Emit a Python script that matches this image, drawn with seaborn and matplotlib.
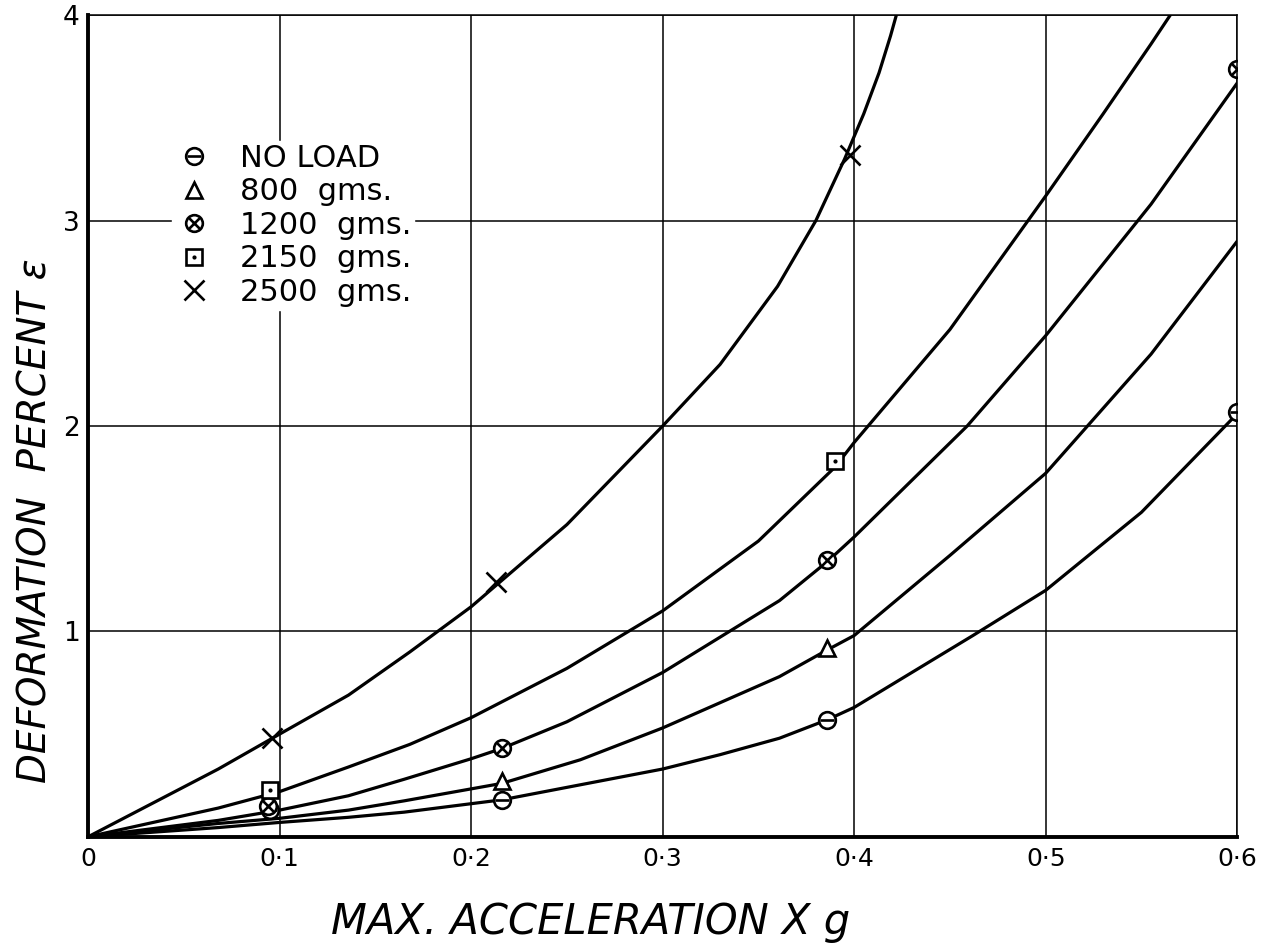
import pandas as pd
import matplotlib
matplotlib.use("Agg")
import matplotlib.pyplot as plt
from matplotlib.lines import Line2D
import seaborn as sns

sns.set_style("white")
plt.rcParams['font.family'] = ['DejaVu Sans']
plt.rcParams['text.color'] = 'black'
plt.rcParams['axes.labelcolor'] = 'black'
plt.rcParams['xtick.color'] = 'black'
plt.rcParams['ytick.color'] = 'black'

# curves (x = max acceleration, y = deformation %)
noload_cx = [0, 0.068, 0.1, 0.136, 0.165, 0.216, 0.3, 0.33, 0.361, 0.386, 0.4, 0.462, 0.5, 0.55, 0.6]
noload_cy = [0, 0.045, 0.07, 0.095, 0.12, 0.18, 0.33, 0.4, 0.48, 0.57, 0.63, 0.98, 1.2, 1.58, 2.06]
g800_cx = [0, 0.068, 0.1, 0.136, 0.165, 0.216, 0.257, 0.3, 0.361, 0.386, 0.4, 0.45, 0.5, 0.555, 0.6]
g800_cy = [0, 0.065, 0.09, 0.13, 0.175, 0.26, 0.375, 0.53, 0.78, 0.91, 0.98, 1.37, 1.77, 2.35, 2.9]
g1200_cx = [0, 0.068, 0.1, 0.136, 0.165, 0.2, 0.216, 0.25, 0.3, 0.361, 0.386, 0.4, 0.459, 0.5, 0.555, 0.6]
g1200_cy = [0, 0.08, 0.13, 0.2, 0.28, 0.38, 0.43, 0.56, 0.8, 1.15, 1.34, 1.46, 2.0, 2.44, 3.08, 3.67]
g2150_cx = [0, 0.068, 0.1, 0.136, 0.168, 0.2, 0.25, 0.3, 0.35, 0.39, 0.4, 0.45, 0.5, 0.53, 0.555, 0.565]
g2150_cy = [0, 0.14, 0.22, 0.34, 0.45, 0.58, 0.82, 1.1, 1.44, 1.8, 1.92, 2.47, 3.12, 3.52, 3.86, 4.0]
g2500_cx = [0, 0.068, 0.1, 0.136, 0.168, 0.2, 0.25, 0.3, 0.33, 0.36, 0.38, 0.395, 0.405, 0.413, 0.419, 0.422]
g2500_cy = [0, 0.33, 0.5, 0.69, 0.9, 1.12, 1.52, 2.0, 2.3, 2.68, 3.0, 3.3, 3.52, 3.72, 3.9, 4.0]

# measured points
noload_px = [0.095, 0.216, 0.386, 0.6]
noload_py = [0.13, 0.18, 0.57, 2.07]
g800_px = [0.216, 0.386]
g800_py = [0.27, 0.92]
g1200_px = [0.094, 0.216, 0.386, 0.6]
g1200_py = [0.15, 0.43, 1.35, 3.74]
g2150_px = [0.095, 0.39]
g2150_py = [0.23, 1.83]
g2500_px = [0.096, 0.213, 0.398]
g2500_py = [0.48, 1.24, 3.32]

load_names = ["NO LOAD", "800  gms.", "1200  gms.", "2150  gms.", "2500  gms."]
x_ticks = [0, 0.1, 0.2, 0.3, 0.4, 0.5, 0.6]
x_ticklabels = ["0", "0·1", "0·2", "0·3", "0·4", "0·5", "0·6"]
y_ticks = [0, 1, 2, 3, 4]
y_ticklabels = ["", "1", "2", "3", "4"]

curves = []
for name, cx, cy in zip(load_names,
                        [noload_cx, g800_cx, g1200_cx, g2150_cx, g2500_cx],
                        [noload_cy, g800_cy, g1200_cy, g2150_cy, g2500_cy]):
    curves.append(pd.DataFrame({"acc": cx, "deform": cy, "load": name}))
df = pd.concat(curves, ignore_index=True)

fig = plt.figure(figsize=(12.67, 9.52), dpi=100)
ax = fig.add_axes([0.0695, 0.121, 0.907, 0.863])

sns.lineplot(data=df, x="acc", y="deform", hue="load", units="load",
             estimator=None, sort=False, palette=["black"] * 5,
             linewidth=2.3, legend=False, ax=ax)

ms = 12
mew = 1.9
hollow = dict(color="black", mfc="white", mew=mew, ms=ms, ls="none")
# no load: circle with bar
ax.plot(noload_px, noload_py, marker="o", **hollow)
ax.plot(noload_px, noload_py, marker="_", color="black", mew=mew, ms=ms - 2, ls="none")
# 800 gms: triangle
ax.plot(g800_px, g800_py, marker="^", **hollow)
# 1200 gms: circle with cross
ax.plot(g1200_px, g1200_py, marker="o", **hollow)
ax.plot(g1200_px, g1200_py, marker="x", color="black", mew=mew, ms=ms - 4, ls="none")
# 2150 gms: square with dot
ax.plot(g2150_px, g2150_py, marker="s", **hollow)
ax.plot(g2150_px, g2150_py, marker=".", color="black", ms=4, ls="none")
# 2500 gms: cross
ax.plot(g2500_px, g2500_py, marker="x", color="black", mew=mew, ms=ms + 2, ls="none")

# legend
lk = dict(color="black", ls="none")
h_noload = (Line2D([], [], marker="o", mfc="white", mew=mew, ms=ms, **lk),
            Line2D([], [], marker="_", mew=mew, ms=ms - 2, **lk))
h_800 = Line2D([], [], marker="^", mfc="white", mew=mew, ms=ms, **lk)
h_1200 = (Line2D([], [], marker="o", mfc="white", mew=mew, ms=ms, **lk),
          Line2D([], [], marker="x", mew=mew, ms=ms - 4, **lk))
h_2150 = (Line2D([], [], marker="s", mfc="white", mew=mew, ms=ms, **lk),
          Line2D([], [], marker=".", ms=4, **lk))
h_2500 = Line2D([], [], marker="x", mew=mew, ms=ms + 2, **lk)
leg = ax.legend([h_noload, h_800, h_1200, h_2150, h_2500], load_names,
                loc="upper left", bbox_to_anchor=(0.06, 0.866), frameon=True,
                fontsize=22, labelspacing=0.15, handlelength=1.2,
                handletextpad=0.9, borderpad=0.1)
leg.get_frame().set_edgecolor("white")
leg.get_frame().set_facecolor("white")
leg.get_frame().set_alpha(1)

ax.set_xlim(0, 0.6)
ax.set_ylim(0, 4)
ax.set_xticks(x_ticks)
ax.set_xticklabels(x_ticklabels, fontsize=18)
ax.set_yticks(y_ticks)
ax.set_yticklabels(y_ticklabels, fontsize=19)
ax.tick_params(axis="x", length=0, pad=7)
ax.tick_params(axis="y", length=0, pad=6)
ax.grid(True, color="black", linewidth=1.1)
ax.set_axisbelow(True)
for side in ["left", "bottom"]:
    ax.spines[side].set_linewidth(2.8)
    ax.spines[side].set_color("black")
for side in ["top", "right"]:
    ax.spines[side].set_linewidth(1.1)
    ax.spines[side].set_color("black")

ax.set_xlabel("MAX. ACCELERATION X g", fontsize=30, style="italic")
ax.set_ylabel("DEFORMATION  PERCENT ε", fontsize=28, style="italic")
ax.xaxis.set_label_coords(0.437, -0.078)
ax.yaxis.set_label_coords(-0.029, 0.385)

fig.savefig("out.png", dpi=100, facecolor="white")
